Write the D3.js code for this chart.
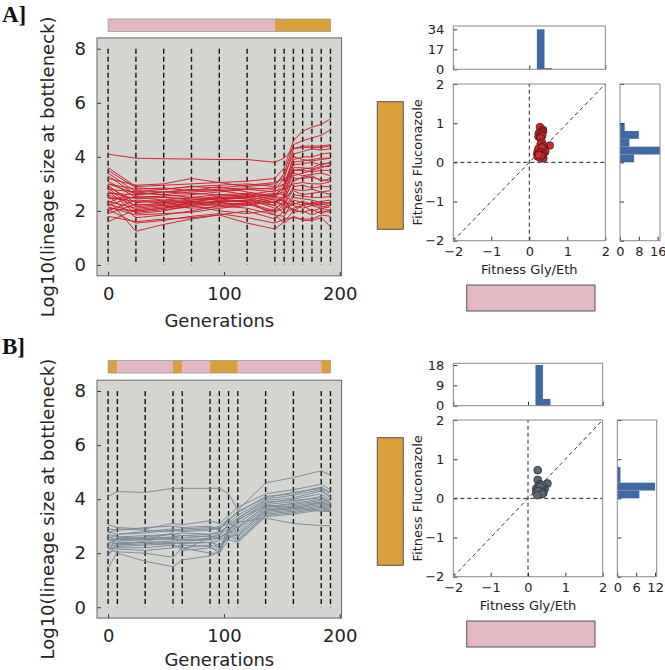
<!DOCTYPE html>
<html><head><meta charset="utf-8">
<script src="https://cdn.jsdelivr.net/npm/d3@7"></script>
<style>body{margin:0;background:#fff}svg{display:block}</style>
</head><body>
<svg id="c" width="665" height="670"></svg>
<script>
// ---------------- DATA ----------------
const gensA = [0,24,48,72,96,120,144,152,160,168,176,184,192];
const gensB = [0,8,32,56,64,88,96,104,112,136,160,184,192];
// environment segments [start, end, env] G = Gly/Eth, F = Fluconazole
const envA = [[0,144,"G"],[144,192,"F"]];
const envB = [[0,8,"F"],[8,56,"G"],[56,64,"F"],[64,88,"G"],[88,112,"F"],[112,184,"G"],[184,192,"F"]];

const linesA = [
 [4.1,3.95,3.93,3.92,3.9,3.9,3.8,3.95,4.3,4.4,4.4,4.4,4.45],
 [3.6,2.9,2.95,3.0,3.05,3.1,3.2,3.6,4.6,4.95,5.1,5.2,5.4],
 [3.4,2.7,2.8,2.9,2.95,3.0,2.9,3.4,4.45,4.6,4.7,4.8,5.0],
 [3.3,2.6,2.7,2.75,2.8,2.85,2.8,3.2,4.3,4.35,4.35,4.35,4.4],
 [3.2,2.95,3.0,3.2,3.05,2.9,3.0,3.3,4.1,4.2,4.3,4.25,4.3],
 [3.1,2.5,2.55,2.6,2.7,2.8,2.7,3.0,3.9,4.0,4.0,4.1,4.15],
 [3.0,2.8,2.85,2.75,2.9,2.7,2.55,2.9,3.8,3.85,3.9,3.95,3.95],
 [2.9,2.3,2.4,2.5,2.6,2.65,2.5,2.8,3.7,3.75,3.8,3.7,3.8],
 [2.85,2.0,2.1,2.3,2.5,2.55,2.3,2.6,3.6,3.6,3.55,3.65,3.64],
 [2.8,2.7,2.6,2.5,2.45,2.5,2.6,2.7,3.5,3.5,3.45,3.5,3.5],
 [2.75,1.9,2.0,2.2,2.4,2.5,2.2,2.5,3.4,3.3,3.35,3.4,3.3],
 [2.7,2.45,2.5,2.4,2.55,2.6,2.4,2.4,3.2,3.2,3.25,3.15,3.1],
 [2.65,2.6,2.7,2.8,2.75,2.6,2.75,2.8,3.0,3.05,3.0,3.0,3.08],
 [2.6,2.2,2.3,2.4,2.5,2.45,2.1,2.3,2.9,2.95,2.85,2.9,2.9],
 [2.55,1.75,1.85,2.0,2.2,2.3,2.0,2.2,2.8,2.75,2.8,2.7,2.75],
 [2.5,2.35,2.3,2.2,2.3,2.4,2.3,2.5,2.75,2.6,2.65,2.7,2.6],
 [2.45,2.5,2.4,2.35,2.3,2.2,2.45,2.1,2.6,2.55,2.5,2.5,2.53],
 [2.4,1.25,1.5,1.7,1.85,2.0,1.7,2.0,2.5,2.45,2.4,2.3,2.28],
 [2.35,2.1,2.2,2.3,2.35,2.35,1.85,1.8,2.4,2.3,2.2,2.25,2.2],
 [2.3,2.75,2.7,2.65,2.6,2.55,2.65,2.6,2.3,2.2,2.3,2.35,2.4],
 [2.25,1.95,2.05,2.15,2.25,2.3,2.5,2.35,2.2,2.1,2.2,2.1,2.15],
 [2.2,2.55,2.5,2.45,2.4,2.35,2.2,1.9,2.1,2.2,2.0,2.1,2.0],
 [2.15,1.85,1.9,1.95,2.1,2.2,2.35,2.2,2.05,1.95,2.05,1.9,2.05],
 [2.1,2.0,2.1,2.2,2.0,1.9,2.05,2.4,1.95,2.0,1.85,2.0,1.95],
 [2.05,1.55,1.65,1.8,1.9,1.75,1.55,1.7,1.75,1.7,1.7,1.85,1.8],
 [2.0,2.4,2.35,2.3,2.2,2.1,1.85,1.55,1.8,1.65,1.65,1.75,1.42],
 [1.9,2.25,2.2,2.1,2.15,2.25,1.95,2.1,2.25,2.35,2.25,2.3,2.3],
 [1.8,1.6,1.7,1.75,1.85,1.55,1.33,1.6,2.0,2.2,2.3,2.15,2.2],
 [1.6,2.05,2.15,2.25,2.35,2.4,2.55,2.45,3.1,3.25,3.3,3.1,3.2],
 [3.5,2.85,2.8,2.9,2.85,2.95,3.05,3.2,3.3,3.4,3.5,3.6,3.7],
 [3.0,2.65,2.6,2.7,2.75,2.8,2.85,3.0,3.5,3.55,3.6,3.75,3.76],
 [2.95,2.15,2.25,2.35,2.45,2.5,2.6,2.9,4.0,3.9,3.85,3.9,3.95]
];

const linesB = [
 [4.1,4.28,4.25,4.4,4.4,4.4,4.4,4.2,3.6,4.6,4.8,5.05,4.88],
 [3.05,2.95,2.9,3.1,3.05,3.2,3.1,3.4,3.7,4.2,4.35,4.55,4.35],
 [2.9,2.85,2.95,3.0,2.95,3.0,2.9,3.2,3.5,4.1,4.2,4.45,4.25],
 [2.8,2.7,2.75,2.85,2.8,2.85,2.95,3.1,3.4,4.0,4.15,4.35,4.1],
 [2.7,2.6,2.65,2.7,2.75,2.7,2.8,3.0,3.3,3.95,4.05,4.3,4.05],
 [2.6,2.5,2.55,2.6,2.65,2.6,2.7,2.9,3.2,3.85,4.0,4.2,3.95],
 [2.5,2.45,2.5,2.55,2.5,2.55,2.6,2.8,3.1,3.8,3.9,4.1,3.9],
 [2.4,2.35,2.4,2.45,2.5,2.5,2.55,2.75,3.0,3.7,3.85,4.0,3.85],
 [2.3,2.3,2.35,2.4,2.35,2.4,2.45,2.7,2.9,3.65,3.75,3.9,3.8],
 [2.2,2.25,2.3,2.35,2.4,2.4,2.3,2.6,2.8,3.6,3.7,3.85,3.7],
 [2.15,2.2,2.2,2.3,2.2,2.3,2.2,2.55,2.7,3.55,3.65,3.8,3.65],
 [2.1,2.6,2.55,2.5,2.45,2.5,2.15,2.9,2.6,3.5,3.6,3.75,3.6],
 [2.0,2.15,2.1,2.2,2.3,2.25,2.0,2.8,2.5,3.45,3.55,3.7,3.6],
 [1.9,2.4,2.4,2.35,2.1,2.2,2.1,2.65,2.45,3.4,3.5,3.65,3.55],
 [1.45,2.05,2.0,1.85,2.2,2.0,2.0,2.5,2.4,3.35,3.45,3.6,3.55],
 [2.25,2.0,1.7,1.5,1.75,1.9,2.05,2.85,3.15,3.3,3.1,3.02,3.02],
 [2.35,2.5,2.6,2.7,2.65,2.7,2.75,3.0,3.3,3.9,3.95,4.05,3.85],
 [2.45,2.55,2.5,2.75,2.1,2.6,2.65,3.1,2.95,3.75,3.8,3.95,3.75],
 [2.55,2.7,2.8,2.9,2.85,2.9,3.0,3.25,3.55,4.05,4.25,4.4,4.2],
 [2.65,2.3,2.45,2.6,2.55,2.65,2.5,2.85,3.25,3.75,3.7,3.55,3.55],
 [2.75,2.9,2.85,2.8,2.9,2.95,2.85,3.3,2.65,3.6,3.65,3.9,3.75]
];

// fitness points [Gly/Eth, Fluconazole]
const fitA = [
 [0.28,0.90],[0.36,0.83],
 [0.36,0.79],[0.33,0.76],[0.25,0.74],[0.30,0.72],[0.24,0.66],[0.28,0.64],[0.34,0.68],[0.30,0.62],
 [0.33,0.51],[0.54,0.43],[0.30,0.47],[0.38,0.42],
 [0.28,0.36],[0.39,0.24],[0.21,0.22],[0.35,0.30],[0.25,0.28],[0.32,0.25],[0.22,0.27],[0.40,0.33],
 [0.30,0.21],[0.27,0.33],[0.36,0.37],[0.24,0.35],[0.42,0.28],[0.33,0.38],[0.29,0.27],[0.37,0.22],[0.26,0.23],
 [0.37,0.10],[0.35,0.18],[0.22,0.15],[0.28,0.12],[0.31,0.17],[0.25,0.19]
];
const fitB = [
 [0.26,0.72],[0.26,0.47],
 [0.52,0.38],[0.45,0.25],[0.32,0.36],[0.39,0.29],[0.24,0.26],[0.28,0.31],[0.35,0.22],[0.22,0.24],
 [0.30,0.27],[0.37,0.34],[0.26,0.21],[0.33,0.30],
 [0.41,0.14],[0.22,0.14],[0.30,0.12],[0.35,0.17],[0.27,0.18],[0.38,0.11],[0.25,0.08]
];
// histograms
const histTopEdgesA = [0.2,0.4,0.6];      const histTopCountsA = [34,1];
const histRightEdgesA = [0,0.2,0.4,0.6,0.8,1.0]; const histRightCountsA = [6,17,4,8,2];
const histTopEdgesB = [0.2,0.4,0.6];      const histTopCountsB = [18,3];
const histRightEdgesB = [0,0.2,0.4,0.6,0.8]; const histRightCountsB = [7,12,1,1];

// ticks
const leftYTicks = [0,2,4,6,8];
const leftXTicks = [0,100,200];
const fitTicks = [-2,-1,0,1,2];
const histTopTicksA = [0,17,34], histRightTicksA = [0,8,16];
const histTopTicksB = [0,9,18],  histRightTicksB = [0,6,12];

// ---------------- STYLE ----------------
const PINK = "#e3b8c3", ORANGE = "#db9f3b", BG = "#d4d4d0", HIST = "#4169a1";
const LFONT = "DejaVu Sans", SFONT = "DejaVu Sans";
const svg = d3.select("#c");

function styleAxis(g, size, font){
  g.select(".domain").remove();
  g.selectAll("text").attr("font-size", size).attr("font-family", font).attr("fill","#222");
  g.selectAll("line").attr("stroke","#333");
  g.attr("font-size", null).attr("font-family", null);
}

function drawLeft(c){
  const x = d3.scaleLinear().domain([-9.6, 201.6]).range([97, 341.6]);
  const y = d3.scaleLinear().domain([-0.4, 8.4]).range([c.bottom, c.top]);
  const [x0,x1] = x.range();
  svg.append("rect").attr("x",x0).attr("y",c.top).attr("width",x1-x0).attr("height",c.bottom-c.top).attr("fill",BG);
  // environment bar
  const eb = svg.append("g");
  c.env.forEach(s=>{
    eb.append("rect").attr("x",x(s[0])).attr("y",c.barTop).attr("width",x(s[1])-x(s[0])).attr("height",12.5)
      .attr("fill", s[2]==="G"?PINK:ORANGE);
  });
  eb.append("rect").attr("x",x(c.gens[0])).attr("y",c.barTop).attr("width",x(c.gens[c.gens.length-1])-x(c.gens[0]))
    .attr("height",12.5).attr("fill","none").attr("stroke","#9a9a9a").attr("stroke-width",0.8);
  // bottleneck dashed lines
  svg.append("g").selectAll("line").data(c.gens).join("line")
    .attr("x1",d=>x(d)).attr("x2",d=>x(d)).attr("y1",y(8)).attr("y2",y(0))
    .attr("stroke","#111").attr("stroke-width",1.4).attr("stroke-dasharray","5,3");
  // lineages
  const line = d3.line().x((d,i)=>x(c.gens[i])).y(d=>y(d));
  svg.append("g").selectAll("path").data(c.lines).join("path")
    .attr("d",line).attr("fill","none").attr("stroke",c.color).attr("stroke-width",1).attr("stroke-opacity",0.95);
  // axes
  const ay = svg.append("g").attr("transform",`translate(${x0},0)`)
    .call(d3.axisLeft(y).tickValues(leftYTicks).tickSize(-4).tickPadding(11));
  styleAxis(ay, 18, LFONT);
  const ax = svg.append("g").attr("transform",`translate(0,${c.bottom})`)
    .call(d3.axisBottom(x).tickValues(leftXTicks).tickSize(-4).tickPadding(11));
  styleAxis(ax, 18, LFONT);
  svg.append("rect").attr("x",x0).attr("y",c.top).attr("width",x1-x0).attr("height",c.bottom-c.top)
    .attr("fill","none").attr("stroke","#666").attr("stroke-width",1);
  svg.append("text").attr("x",(x0+x1)/2).attr("y",Math.min(c.bottom+51, 666)).attr("text-anchor","middle")
    .attr("font-family",LFONT).attr("font-size",18).attr("fill","#222").text("Generations");
  svg.append("text").attr("transform",`translate(54,${(c.top+c.bottom)/2 + 10}) rotate(-90)`).attr("text-anchor","middle")
    .attr("font-family",LFONT).attr("font-size",18).attr("fill","#222").text("Log10(lineage size at bottleneck)");
  svg.append("text").attr("x",2).attr("y",c.labelY).attr("font-family","Liberation Serif").attr("font-weight","bold")
    .attr("font-size",23).attr("fill","#111").text(c.label);
}

function drawRight(c){
  const x = d3.scaleLinear().domain([-2,2]).range([453.3, c.right]);
  const y = d3.scaleLinear().domain([-2,2]).range([c.bottom, c.top]);
  const g = svg.append("g");
  // side env boxes
  g.append("rect").attr("x",377.3).attr("y",c.top+17.7).attr("width",26).attr("height",127.6)
    .attr("fill",ORANGE).attr("stroke","#555").attr("stroke-width",1);
  g.append("rect").attr("x",466.7).attr("y",c.bottom+44.3).attr("width",128.3).attr("height",26)
    .attr("fill",PINK).attr("stroke","#555").attr("stroke-width",1);
  // ref lines
  const dash = "4,3";
  g.append("line").attr("x1",x(0)).attr("x2",x(0)).attr("y1",y(-2)).attr("y2",y(2)).attr("stroke","#222").attr("stroke-dasharray",dash);
  g.append("line").attr("x1",x(-2)).attr("x2",x(2)).attr("y1",y(0)).attr("y2",y(0)).attr("stroke","#222").attr("stroke-dasharray",dash);
  g.append("line").attr("x1",x(-2)).attr("x2",x(2)).attr("y1",y(-2)).attr("y2",y(2)).attr("stroke","#222").attr("stroke-width",0.9).attr("stroke-dasharray",dash);
  // points
  g.append("g").selectAll("circle").data(c.pts).join("circle")
    .attr("cx",d=>x(d[0])).attr("cy",d=>y(d[1])).attr("r",c.r)
    .attr("fill",c.fill).attr("stroke",c.stroke).attr("stroke-width",0.8);
  // axes
  const ay = g.append("g").attr("transform",`translate(${x(-2)},0)`)
    .call(d3.axisLeft(y).tickValues(fitTicks).tickSize(-4).tickPadding(9).tickFormat(d3.format("d")));
  styleAxis(ay, 13, SFONT);
  const ax = g.append("g").attr("transform",`translate(0,${c.bottom})`)
    .call(d3.axisBottom(x).tickValues(fitTicks).tickSize(-4).tickPadding(6).tickFormat(d3.format("d")));
  styleAxis(ax, 13, SFONT);
  g.append("rect").attr("x",x(-2)).attr("y",c.top).attr("width",x(2)-x(-2)).attr("height",c.bottom-c.top)
    .attr("fill","none").attr("stroke","#888");
  g.append("text").attr("x",x(0)).attr("y",c.bottom+33).attr("text-anchor","middle")
    .attr("font-family",SFONT).attr("font-size",13).attr("fill","#222").text("Fitness Gly/Eth");
  g.append("text").attr("transform",`translate(422,${y(0)}) rotate(-90)`).attr("text-anchor","middle")
    .attr("font-family",SFONT).attr("font-size",13).attr("fill","#222").text("Fitness Fluconazole");

  // top histogram
  const yh = d3.scaleLinear().domain([0,c.topMax]).range([c.htBottom, c.htTop]);
  g.append("g").selectAll("rect").data(c.topCounts).join("rect")
    .attr("x",(d,i)=>x(c.topEdges[i])).attr("width",(d,i)=>x(c.topEdges[i+1])-x(c.topEdges[i]))
    .attr("y",d=>yh(d)).attr("height",d=>yh(0)-yh(d)).attr("fill",HIST);
  const hty = g.append("g").attr("transform",`translate(${x(-2)},0)`)
    .call(d3.axisLeft(yh).tickValues(c.topTicks).tickSize(-4).tickPadding(9));
  styleAxis(hty, 13, SFONT);
  const htx = g.append("g").attr("transform",`translate(0,${c.htBottom})`)
    .call(d3.axisBottom(x).tickValues([-2,0,2]).tickSize(-4).tickFormat(""));
  styleAxis(htx, 13, SFONT);
  g.append("rect").attr("x",x(-2)).attr("y",c.htTop).attr("width",x(2)-x(-2)).attr("height",c.htBottom-c.htTop)
    .attr("fill","none").attr("stroke","#888");

  // right histogram
  const xh = d3.scaleLinear().domain([0,c.rightMax]).range([c.hrLeft, c.hrRight]);
  g.append("g").selectAll("rect").data(c.rightCounts).join("rect")
    .attr("y",(d,i)=>y(c.rightEdges[i+1])).attr("height",(d,i)=>y(c.rightEdges[i])-y(c.rightEdges[i+1]))
    .attr("x",xh(0)).attr("width",d=>xh(d)-xh(0)).attr("fill",HIST);
  const hrx = g.append("g").attr("transform",`translate(0,${c.bottom})`)
    .call(d3.axisBottom(xh).tickValues(c.rightTicks).tickSize(-4).tickPadding(6));
  styleAxis(hrx, 13, SFONT);
  const hry = g.append("g").attr("transform",`translate(${c.hrLeft},0)`)
    .call(d3.axisLeft(y).tickValues(fitTicks).tickSize(-4).tickFormat(""));
  styleAxis(hry, 13, SFONT);
  g.append("rect").attr("x",c.hrLeft).attr("y",c.top).attr("width",c.hrRight-c.hrLeft).attr("height",c.bottom-c.top)
    .attr("fill","none").attr("stroke","#888");
}

drawLeft({top:37.9, bottom:275.8, barTop:19, gens:gensA, env:envA, lines:linesA, color:"#cc1f2a", label:"A]", labelY:22});
drawLeft({top:380.2, bottom:618.1, barTop:360.5, gens:gensB, env:envB, lines:linesB, color:"#7a8998", label:"B]", labelY:354});

drawRight({top:84, bottom:240.7, right:605.3, pts:fitA, r:3.8, fill:"#cf2a2f", stroke:"#4a1515",
  htTop:26, htBottom:69.3, topMax:36.8, topEdges:histTopEdgesA, topCounts:histTopCountsA, topTicks:histTopTicksA,
  hrLeft:620, hrRight:660, rightMax:17, rightEdges:histRightEdgesA, rightCounts:histRightCountsA, rightTicks:histRightTicksA});
drawRight({top:420, bottom:576.7, right:602.7, pts:fitB, r:3.9, fill:"#5e6977", stroke:"#2c333b",
  htTop:363.3, htBottom:405.7, topMax:18.75, topEdges:histTopEdgesB, topCounts:histTopCountsB, topTicks:histTopTicksB,
  hrLeft:617.3, hrRight:656.7, rightMax:12.5, rightEdges:histRightEdgesB, rightCounts:histRightCountsB, rightTicks:histRightTicksB});
</script>
</body></html>
